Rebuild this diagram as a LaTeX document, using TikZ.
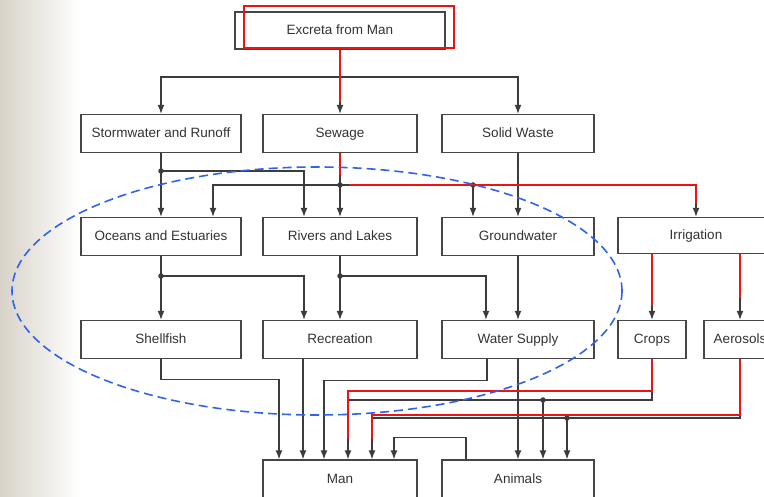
\documentclass[tikz,border=0pt]{standalone}
\usepackage{fontspec}
\setmainfont{Liberation Sans}
\usetikzlibrary{arrows.meta}

\definecolor{boxgray}{RGB}{70,70,70}
\definecolor{linkgray}{RGB}{60,60,60}
\definecolor{hlred}{RGB}{235,20,20}
\definecolor{ovalblue}{RGB}{45,100,235}
\definecolor{paneltone}{RGB}{216,211,201}

\tikzset{
  box/.style={draw=boxgray, line width=1.4pt, minimum height=38pt, inner sep=0pt,
    text height=10pt, text depth=1pt, text=black!80, font=\fontsize{13.5}{15}\selectfont},
  link/.style={draw=linkgray, line width=1.2pt},
  flow/.style={link, -{Latex[length=9pt,width=7pt]}},
  hl/.style={draw=hlred, line width=2pt},
  jdot/.style={circle, fill=linkgray, inner sep=0pt, minimum size=5.5pt},
}

\begin{document}
\begin{tikzpicture}[x=1pt, y=-1pt]

    \useasboundingbox (0,0) rectangle (764,497);
    \shade[left color=paneltone, right color=white] (0,0) rectangle (80,497);

    \node[box, minimum width=210pt, minimum height=37pt] (excreta) at (340,30.5) {Excreta from Man};

    \node[box, minimum width=160pt] (storm) at (161,133.5) {Stormwater and Runoff};
    \node[box, minimum width=154pt] (sewage) at (340,133.5) {Sewage};
    \node[box, minimum width=152pt] (solid) at (518,133.5) {Solid Waste};

    \node[box, minimum width=160pt] (oceans) at (161,236.5) {Oceans and Estuaries};
    \node[box, minimum width=154pt] (rivers) at (340,236.5) {Rivers and Lakes};
    \node[box, minimum width=152pt] (ground) at (518,236.5) {Groundwater};
    \node[box, minimum width=156pt, minimum height=36pt] (irrig) at (696,235.5) {Irrigation};

    \node[box, minimum width=160pt] (shell) at (161,339.5) {Shellfish};
    \node[box, minimum width=154pt] (recre) at (340,339.5) {Recreation};
    \node[box, minimum width=152pt] (water) at (518,339.5) {Water Supply};
    \node[box, minimum width=68pt] (crops) at (652,339.5) {Crops};
    \node[box, minimum width=72pt] (aeros) at (740,339.5) {Aerosols};

    \node[box, minimum width=154pt] (man) at (340,479) {Man};
    \node[box, minimum width=152pt] (animals) at (518,479) {Animals};

    \coordinate (topbus) at (340,77);
    \coordinate (j1) at (161,171);
    \coordinate (j2) at (340,185);
    \coordinate (j3) at (473,185);
    \coordinate (j4) at (161,276);
    \coordinate (j5) at (340,276);
    \coordinate (j6) at (543,400);
    \coordinate (j7) at (567,418);

    \draw[flow] (excreta.south) -- (sewage.north);
    \draw[flow] (topbus) -| (storm.north);
    \draw[flow] (topbus) -| (solid.north);

    \draw[link] (storm.south) -- (j1);
    \draw[flow] (j1) -- (oceans.north);
    \draw[flow] (j1) -| ([xshift=-36pt]rivers.north);
    \draw[link] (sewage.south) -- (j2);
    \draw[flow] (j2) -- (rivers.north);
    \draw[flow] (j2) -| ([xshift=52pt]oceans.north);
    \draw[flow] (j2) -| (irrig.north);
    \draw[flow] (j3) -- ([xshift=-45pt]ground.north);
    \draw[flow] (solid.south) -- (ground.north);

    \draw[link] (oceans.south) -- (j4);
    \draw[flow] (j4) -- (shell.north);
    \draw[flow] (j4) -| ([xshift=-36pt]recre.north);
    \draw[link] (rivers.south) -- (j5);
    \draw[flow] (j5) -- (recre.north);
    \draw[flow] (j5) -| ([xshift=-32pt]water.north);
    \draw[flow] (ground.south) -- (water.north);
    \draw[flow] (irrig.south -| crops.north) -- (crops.north);
    \draw[flow] (irrig.south -| aeros.north) -- (aeros.north);

    \draw[flow] (shell.south) -- ++(0,20) -| ([xshift=-61pt]man.north);
    \draw[flow] ([xshift=-37pt]recre.south) -- ([xshift=-37pt]man.north);
    \draw[flow] ([xshift=-31pt]water.south) -- ++(0,21) -| ([xshift=-16pt]man.north);
    \draw[flow] (water.south) -- (animals.north);
    \draw[flow] (crops.south) |- (j6) -| ([xshift=8pt]man.north);
    \draw[flow] (j6) -- ([xshift=25pt]animals.north);
    \draw[flow] (aeros.south) |- (j7) -| ([xshift=32pt]man.north);
    \draw[flow] (j7) -- ([xshift=49pt]animals.north);
    \draw[flow] ([xshift=-52pt]animals.north) -- ++(0,-22) -| ([xshift=54pt]man.north);

    \foreach \j in {j1,j2,j3,j4,j5,j6,j7}
        \node[jdot] at (\j) {};

    \draw[hl] ([xshift=10pt,yshift=5pt]excreta.north west) rectangle ([xshift=8pt,yshift=2pt]excreta.south east);
    \draw[hl] (excreta.south) -- ([yshift=12pt]sewage.north);
    \draw[hl] (sewage.south) -- ++(0,22);
    \draw[hl] ([xshift=9pt]j2) -| ([yshift=13pt]irrig.north);
    \draw[hl] (irrig.south -| crops.north) -- ([yshift=14pt]crops.north);
    \draw[hl] (irrig.south -| aeros.north) -- ([yshift=22pt]aeros.north);
    \draw[hl] (crops.south) -- ++(0,32) -| ([xshift=8pt,yshift=20pt]man.north);
    \draw[hl] (aeros.south) -- ++(0,56) -| ([xshift=32pt,yshift=20pt]man.north);

    \draw[ovalblue, line width=1.6pt, dash pattern=on 9pt off 5pt] (317,291) ellipse [x radius=305, y radius=124];

\end{tikzpicture}
\end{document}
